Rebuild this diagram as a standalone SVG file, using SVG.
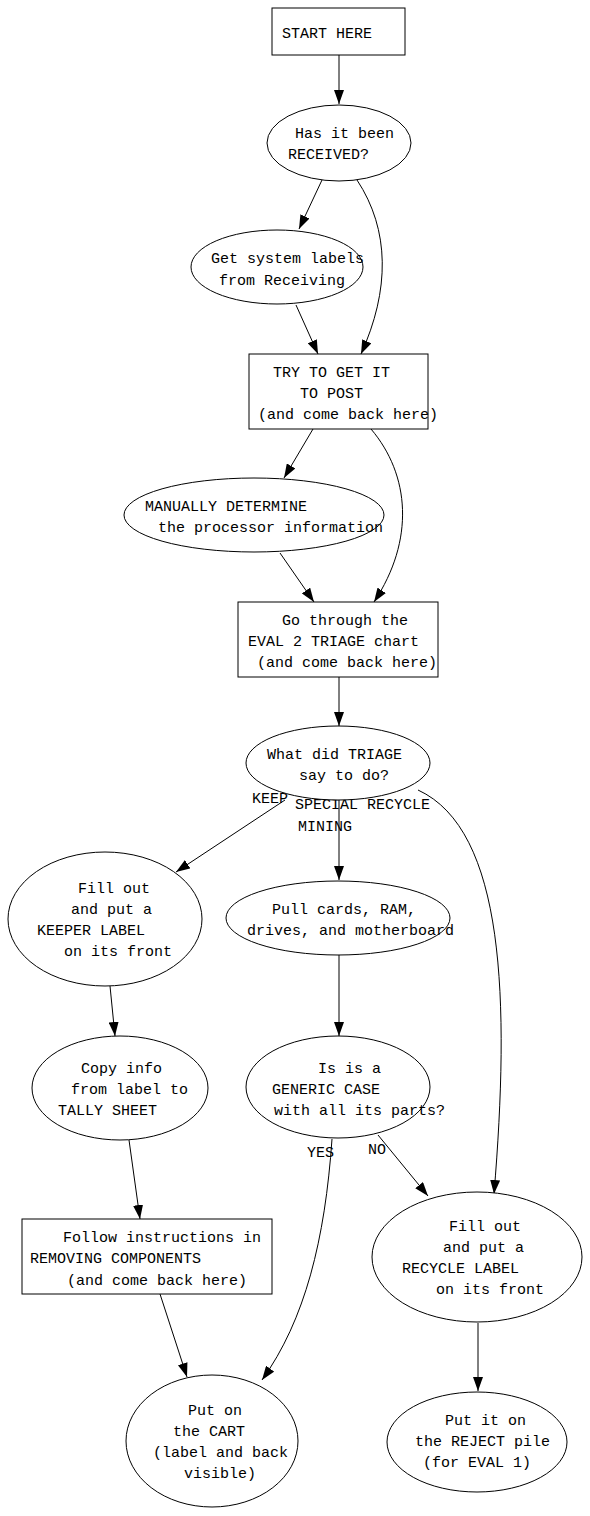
<svg xmlns="http://www.w3.org/2000/svg" width="590" height="1516" viewBox="0 0 590 1516">
<style>
text{font-family:"Liberation Mono","DejaVu Sans Mono",monospace;font-size:15px;fill:#000;white-space:pre}
.n{fill:#fff;stroke:#000;stroke-width:1}
.e{fill:none;stroke:#000;stroke-width:1;marker-end:url(#ah)}
</style>
<defs>
<marker id="ah" markerUnits="userSpaceOnUse" markerWidth="14" markerHeight="10" refX="14" refY="5" orient="auto">
<path d="M0,0 L14,5 L0,10 z" fill="#000"/>
</marker>
</defs>
<rect width="590" height="1516" fill="#fff"/>
<g id="connectors">
<path class="e" d="M339,55 L339,104"/>
<path class="e" d="M322,180 L299,229"/>
<path class="e" d="M357,180 C390,230 390,290 361,354"/>
<path class="e" d="M296,305 L318,354"/>
<path class="e" d="M313,429 L284,478"/>
<path class="e" d="M371,429 C410,475 415,540 374,602"/>
<path class="e" d="M280,553 L314,602"/>
<path class="e" d="M339,677 L339,726"/>
<path class="e" d="M285,800 L176,872"/>
<path class="e" d="M339,800 L339,880"/>
<path class="e" d="M418,790 C505,830 510,1000 494,1194"/>
<path class="e" d="M110,986 L115,1036"/>
<path class="e" d="M339,955 L339,1036"/>
<path class="e" d="M129,1140 L140,1219"/>
<path class="e" d="M332,1139 C325,1240 305,1320 262,1380"/>
<path class="e" d="M378,1135 L428,1196"/>
<path class="e" d="M160,1294 L187,1377"/>
<path class="e" d="M478,1323 L478,1391"/>
<text x="252" y="803">KEEP</text>
<text x="295" y="809">SPECIAL RECYCLE</text>
<text x="298" y="831">MINING</text>
<text x="307" y="1157">YES</text>
<text x="368" y="1154">NO</text>
</g>
<g id="start">
<rect class="n" x="272" y="8" width="133" height="47"/>
<text x="282" y="38">START HERE</text>
</g>
<g id="received">
<ellipse class="n" cx="339" cy="143" rx="72" ry="38"/>
<text x="295" y="138">Has it been</text>
<text x="288" y="159">RECEIVED?</text>
</g>
<g id="getlabels">
<ellipse class="n" cx="277" cy="267" rx="86" ry="37"/>
<text x="211" y="263">Get system labels</text>
<text x="219" y="285">from Receiving</text>
</g>
<g id="post">
<rect class="n" x="249" y="354" width="179" height="75"/>
<text x="273" y="377">TRY TO GET IT</text>
<text x="300" y="398">TO POST</text>
<text x="258" y="419">(and come back here)</text>
</g>
<g id="manual">
<ellipse class="n" cx="254" cy="515" rx="130" ry="37"/>
<text x="145" y="511">MANUALLY DETERMINE</text>
<text x="158" y="532">the processor information</text>
</g>
<g id="triagechart">
<rect class="n" x="238" y="602" width="200" height="75"/>
<text x="282" y="625">Go through the</text>
<text x="248" y="646">EVAL 2 TRIAGE chart</text>
<text x="257" y="667">(and come back here)</text>
</g>
<g id="whattriage">
<ellipse class="n" cx="338" cy="763" rx="92" ry="37"/>
<text x="267" y="759">What did TRIAGE</text>
<text x="299" y="780">say to do?</text>
</g>
<g id="keeper">
<ellipse class="n" cx="105" cy="919" rx="97" ry="67"/>
<text x="78" y="893">Fill out</text>
<text x="71" y="914">and put a</text>
<text x="37" y="935">KEEPER LABEL</text>
<text x="64" y="956">on its front</text>
</g>
<g id="pull">
<ellipse class="n" cx="338" cy="918" rx="112" ry="37"/>
<text x="272" y="914">Pull cards, RAM,</text>
<text x="247" y="935">drives, and motherboard</text>
</g>
<g id="copy">
<ellipse class="n" cx="120" cy="1088" rx="88" ry="52"/>
<text x="81" y="1073">Copy info</text>
<text x="71" y="1094">from label to</text>
<text x="58" y="1115">TALLY SHEET</text>
</g>
<g id="generic">
<ellipse class="n" cx="338" cy="1087" rx="92" ry="51"/>
<text x="318" y="1073">Is is a</text>
<text x="272" y="1094">GENERIC CASE</text>
<text x="274" y="1115">with all its parts?</text>
</g>
<g id="removing">
<rect class="n" x="22" y="1219" width="250" height="75"/>
<text x="63" y="1242">Follow instructions in</text>
<text x="30" y="1263">REMOVING COMPONENTS</text>
<text x="67" y="1285">(and come back here)</text>
</g>
<g id="recycle">
<ellipse class="n" cx="477" cy="1257" rx="105" ry="65"/>
<text x="449" y="1231">Fill out</text>
<text x="443" y="1252">and put a</text>
<text x="402" y="1273">RECYCLE LABEL</text>
<text x="436" y="1294">on its front</text>
</g>
<g id="cart">
<ellipse class="n" cx="212" cy="1441" rx="86" ry="66"/>
<text x="188" y="1415">Put on</text>
<text x="173" y="1436">the CART</text>
<text x="153" y="1457">(label and back</text>
<text x="184" y="1478">visible)</text>
</g>
<g id="reject">
<ellipse class="n" cx="477" cy="1442" rx="90" ry="50"/>
<text x="445" y="1425">Put it on</text>
<text x="415" y="1446">the REJECT pile</text>
<text x="423" y="1467">(for EVAL 1)</text>
</g>
</svg>
